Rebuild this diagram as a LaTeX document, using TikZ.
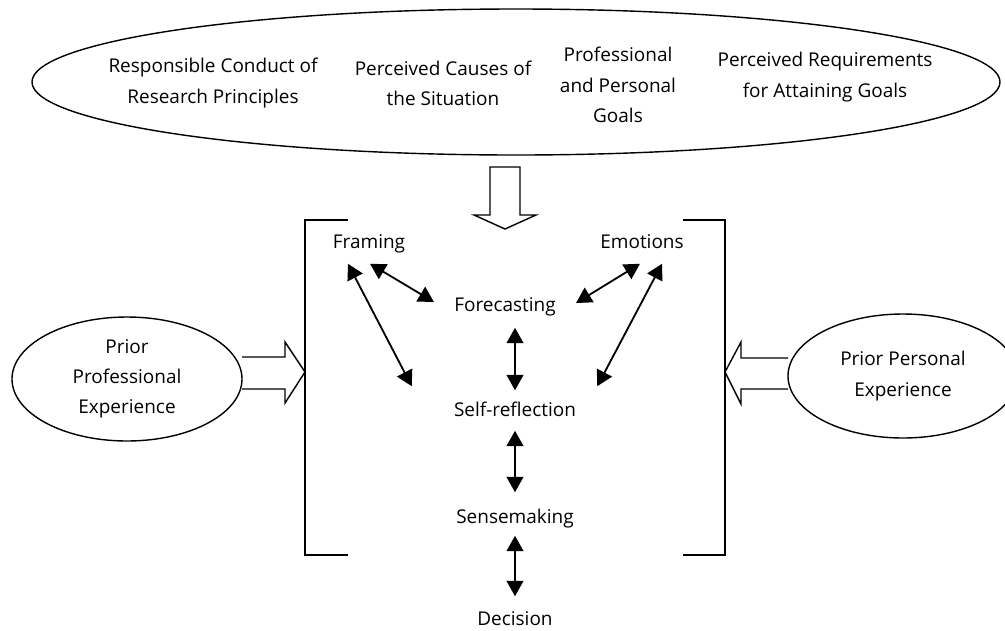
\documentclass[tikz,border=0pt]{standalone}
\usepackage{fontspec}
\setmainfont{Open Sans}
\usepackage{tikz}
\usetikzlibrary{arrows.meta,positioning,shapes.geometric}
\tikzset{
	lbl/.style={inner sep=0pt,text height=10pt,text depth=3.5pt},
	txt/.style={inner sep=0pt,align=center},
	oval/.style={draw,ellipse,line width=1pt,inner sep=0pt,align=center},
	brk/.style={line width=1.2pt},
	fat/.style={draw,line width=1pt,line join=miter},
	dbl/.style={{Triangle[length=11pt,width=12pt]}-{Triangle[length=11pt,width=12pt]},line width=1.3pt}
}
\begin{document}
\begin{tikzpicture}[x=0.25mm,y=-0.25mm,font=\fontsize{13.5pt}{21.5pt}\selectfont]
	\useasboundingbox (0,0) rectangle (1005,630);
	\node[oval,minimum width=242mm,minimum height=36.5mm] (ctx) at (516,82) {};
	\node[txt] (rcr) at (213,83) {Responsible Conduct of\\Research Principles};
	\node[txt] (pcs) at (443,83) {Perceived Causes of\\the Situation};
	\node[txt] (ppg) at (618,85) {Professional\\and Personal\\Goals};
	\node[txt] (prq) at (825,77) {Perceived Requirements\\for Attaining Goals};
	\node[oval,minimum width=57.5mm,minimum height=31mm] (ppe) at (127,379) {Prior\\Professional\\Experience};
	\node[oval,minimum width=57.5mm,minimum height=31mm] (pse) at (903,376) {Prior Personal\\Experience};
	\node[lbl] (fram) at (369,244) {Framing};
	\node[lbl] (emo) at (642,244) {Emotions};
	\node[lbl] (fore) at (505,307) {Forecasting};
	\node[lbl] (self) at (515,412) {Self-reflection};
	\node[lbl] (sense) at (515,519) {Sensemaking};
	\node[lbl] (dec) at (515,621) {Decision};
	\draw[brk] (348,220) -| (305,555) -- (348,555);
	\draw[brk] (683,220) -| (725,555) -- (683,555);
	\draw[fat] (490,167) -- (520,167) -- (520,215) -- (536,215) -- (505,229) -- (474,215) -- (490,215) -- cycle;
	\draw[fat] (242,357) -- (285,357) -- (285,342) -- (305,372) -- (285,403) -- (285,389) -- (242,389);
	\draw[fat] (788,358) -- (741,358) -- (741,342) -- (725,372) -- (741,404) -- (741,389) -- (788,389);
	\draw[dbl] ([shift={(1,10)}]fram.south) -- ([shift={(-20,-5)}]fore.west);
	\draw[dbl] ([shift={(-21,10)}]fram.south) -- ([shift={(-42,-16)}]self.north west);
	\draw[dbl] ([shift={(-2,10)}]emo.south) -- ([shift={(20,-4)}]fore.east);
	\draw[dbl] ([shift={(20,10)}]emo.south) -- ([shift={(21,-16)}]self.north east);
	\draw[dbl] ([shift={(10,11)}]fore.south) -- ([shift={(0,-12)}]self.north);
	\draw[dbl] ([shift={(0,9)}]self.south) -- ([shift={(0,-17)}]sense.north);
	\draw[dbl] ([shift={(0,7)}]sense.south) -- ([shift={(0,-15)}]dec.north);
\end{tikzpicture}
\end{document}
